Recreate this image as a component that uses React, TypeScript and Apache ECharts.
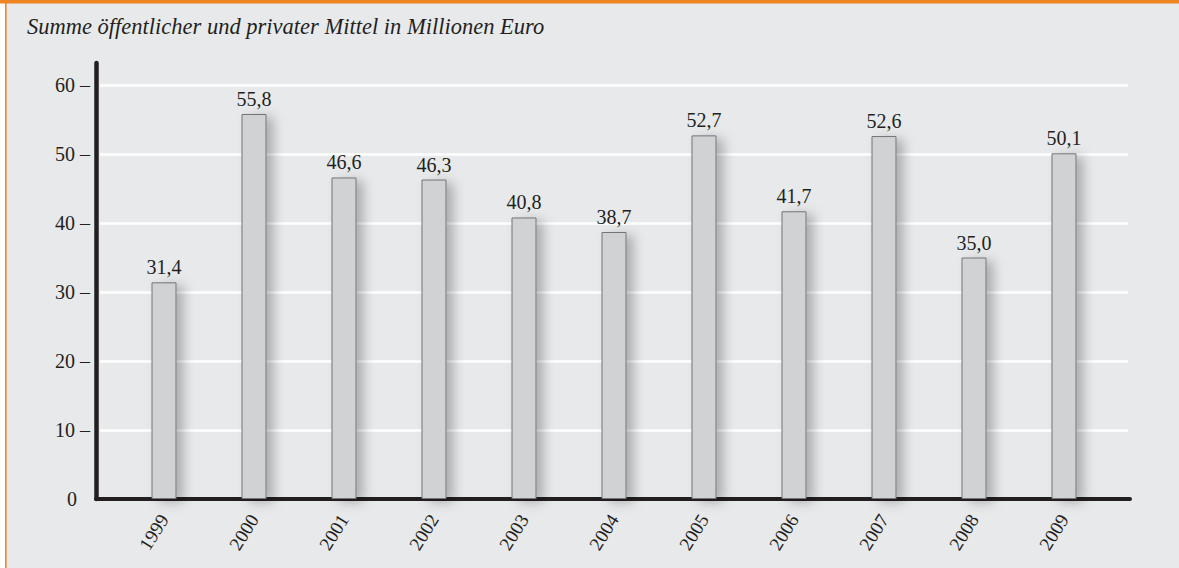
import React, { useEffect, useRef } from "react";
import * as echarts from "echarts";

const years = ["1999", "2000", "2001", "2002", "2003", "2004", "2005", "2006", "2007", "2008", "2009"];
const values = [31.4, 55.8, 46.6, 46.3, 40.8, 38.7, 52.7, 41.7, 52.6, 35.0, 50.1];
const yTicks = [0, 10, 20, 30, 40, 50, 60];
const title = "Summe öffentlicher und privater Mittel in Millionen Euro";

const FONT = "'Liberation Serif', 'DejaVu Serif', serif";
const TEXT = "#231f20";

export default function App() {
  const ref = useRef<HTMLDivElement>(null);
  useEffect(() => {
    document.body.style.margin = "0";
    const chart = echarts.init(ref.current!, null, { renderer: "svg" });
    const option: any = {
      animation: false,
      backgroundColor: "#e8e9eb",
      textStyle: { fontFamily: FONT, color: TEXT },
      graphic: [
        { type: "rect", shape: { x: 0, y: 0, width: 5, height: 568 }, style: { fill: "#ffffff" }, silent: true },
        { type: "rect", shape: { x: 5, y: 0, width: 1.6, height: 568 }, style: { fill: "#ee8422" }, silent: true },
        { type: "rect", shape: { x: 0, y: 0, width: 1179, height: 3.5 }, style: { fill: "#ee8422" }, silent: true },
        {
          type: "text",
          left: 27,
          top: 15,
          style: {
            text: title,
            font: `italic 22.5px ${FONT}`,
            fill: TEXT,
          },
          silent: true,
        },
      ],
      grid: [
        { left: 100, right: 51, top: 85, bottom: 69 },
        { left: 96, right: 49, top: 63, bottom: 69 },
        { left: 119, right: 70, top: 85, bottom: 69 },
      ],
      xAxis: [
        { gridIndex: 0, type: "category", data: years, show: false },
        {
          gridIndex: 1,
          type: "category",
          data: years,
          axisLine: { show: true, lineStyle: { color: TEXT, width: 4 } },
          axisTick: { show: false },
          axisLabel: { show: false },
          splitLine: { show: false },
        },
        {
          gridIndex: 2,
          type: "category",
          data: years,
          axisLine: { show: false },
          axisTick: { show: false },
          axisLabel: {
            rotate: 58,
            margin: 17,
            fontSize: 19,
            fontFamily: FONT,
            color: TEXT,
          },
        },
      ],
      yAxis: [
        {
          gridIndex: 0,
          type: "value",
          min: yTicks[0],
          max: yTicks[yTicks.length - 1],
          interval: 10,
          axisLine: { show: false },
          axisTick: { show: false },
          splitLine: { show: true, lineStyle: { color: "#ffffff", width: 2.5 } },
          axisLabel: {
            margin: 10,
            fontSize: 20,
            fontFamily: FONT,
            color: TEXT,
            formatter: (v: number) => (v === 0 ? "{z|0}" : `${v} –`),
            rich: { z: { fontSize: 20, fontFamily: FONT, color: TEXT, padding: [0, 13, 0, 0] } },
          },
        },
        {
          gridIndex: 1,
          type: "value",
          min: 0,
          max: 63.2,
          axisLine: { show: true, lineStyle: { color: TEXT, width: 4.5 } },
          axisTick: { show: false },
          axisLabel: { show: false },
          splitLine: { show: false },
        },
        {
          gridIndex: 2,
          type: "value",
          min: 0,
          max: 60,
          show: false,
          splitLine: { show: false },
        },
      ],
      series: [
        {
          type: "bar",
          xAxisIndex: 2,
          yAxisIndex: 2,
          data: values,
          barWidth: 25,
          itemStyle: {
            color: "#d1d2d4",
            borderColor: "#737477",
            borderWidth: 1,
            shadowColor: "rgba(0,0,0,0.26)",
            shadowBlur: 12,
            shadowOffsetX: 7,
            shadowOffsetY: 3,
          },
          label: {
            show: true,
            position: "top",
            distance: 5,
            fontSize: 20,
            fontFamily: FONT,
            color: TEXT,
            formatter: (p: any) => p.value.toFixed(1).replace(".", ","),
          },
        },
      ],
    };
    chart.setOption(option);
    return () => chart.dispose();
  }, []);
  return <div ref={ref} style={{ width: 1179, height: 568 }} />;
}
